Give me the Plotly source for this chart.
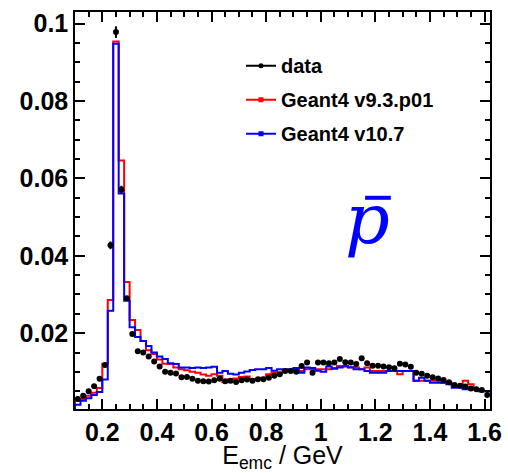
import plotly.graph_objects as go

# bin edges: 0.10 .. 1.62 in steps of 0.02 (76 bins)
bin_low = 0.10
bin_width = 0.02
n_bins = 76

data_vals = [0.0030, 0.0038, 0.0050, 0.0063, 0.0082, 0.0118, 0.0427, 0.0978, 0.0571, 0.0290,
             0.0198, 0.0153, 0.0150, 0.0140, 0.0127, 0.0114, 0.0100, 0.0098, 0.0096, 0.0086,
             0.0087, 0.0082, 0.0077, 0.0076, 0.0075, 0.0078, 0.0082, 0.0076, 0.0077, 0.0074,
             0.0078, 0.0080, 0.0077, 0.0081, 0.0081, 0.0085, 0.0090, 0.0094, 0.0102, 0.0102,
             0.0100, 0.0115, 0.0124, 0.0098, 0.0124, 0.0124, 0.0122, 0.0124, 0.0133, 0.0125,
             0.0124, 0.0120, 0.0135, 0.0122, 0.0116, 0.0116, 0.0114, 0.0112, 0.0109, 0.0121,
             0.0119, 0.0113, 0.0098, 0.0095, 0.0090, 0.0086, 0.0083, 0.0079, 0.0073, 0.0066,
             0.0064, 0.0062, 0.0057, 0.0055, 0.0053, 0.0040]
data_err = [0.0003] * 6 + [0.0010, 0.0015, 0.0010, 0.0005] + [0.0003] * 66

g4_v93 = [0.0025, 0.0030, 0.0038, 0.0046, 0.0058, 0.0121, 0.0286, 0.0954, 0.0646, 0.0332,
          0.0234, 0.0208, 0.0180, 0.0156, 0.0146, 0.0132, 0.0121, 0.0120, 0.0111, 0.0107,
          0.0104, 0.0100, 0.0098, 0.0093, 0.0090, 0.0094, 0.0090, 0.0073, 0.0081, 0.0083,
          0.0087, 0.0088, 0.0081, 0.0081, 0.0085, 0.0094, 0.0098, 0.0098, 0.0102, 0.0102,
          0.0102, 0.0102, 0.0107, 0.0107, 0.0107, 0.0107, 0.0107, 0.0110, 0.0115, 0.0115,
          0.0111, 0.0111, 0.0107, 0.0111, 0.0102, 0.0102, 0.0102, 0.0102, 0.0102, 0.0094,
          0.0102, 0.0102, 0.0077, 0.0077, 0.0077, 0.0077, 0.0077, 0.0072, 0.0072, 0.0064,
          0.0064, 0.0077, 0.0068, 0.0055, 0.0050, 0.0050]

g4_v107 = [0.0015, 0.0025, 0.0032, 0.0040, 0.0048, 0.0080, 0.0258, 0.0948, 0.0561, 0.0284,
           0.0215, 0.0190, 0.0180, 0.0167, 0.0150, 0.0140, 0.0133, 0.0122, 0.0120, 0.0111,
           0.0111, 0.0110, 0.0111, 0.0110, 0.0111, 0.0113, 0.0098, 0.0102, 0.0095, 0.0093,
           0.0098, 0.0101, 0.0105, 0.0107, 0.0107, 0.0110, 0.0103, 0.0107, 0.0107, 0.0107,
           0.0110, 0.0098, 0.0111, 0.0110, 0.0103, 0.0100, 0.0114, 0.0108, 0.0111, 0.0114,
           0.0112, 0.0107, 0.0107, 0.0102, 0.0098, 0.0098, 0.0098, 0.0102, 0.0102, 0.0102,
           0.0102, 0.0102, 0.0077, 0.0085, 0.0077, 0.0072, 0.0072, 0.0072, 0.0068, 0.0059,
           0.0059, 0.0055, 0.0055, 0.0055, 0.0050, 0.0050]

legend_names = ["data", "Geant4 v9.3.p01", "Geant4 v10.7"]
x_title = "E<sub>emc</sub> / GeV"
particle_label = "p"

edges = [round(bin_low + i * bin_width, 4) for i in range(n_bins + 1)]
centers = [round(bin_low + (i + 0.5) * bin_width, 4) for i in range(n_bins)]


def step_xy(vals):
    xs = [edges[0]] + edges[:-1] + [edges[-1]]
    ys = [0.0] + list(vals) + [vals[-1]]
    return xs, ys


RED = "#ff0000"
BLUE = "#0000ff"
fig = go.Figure()

for vals, col in [(g4_v93, RED), (g4_v107, BLUE)]:
    xs, ys = step_xy(vals)
    fig.add_trace(go.Scatter(x=xs, y=ys, mode="lines", line=dict(color=col, width=2, shape="hv"),
                             showlegend=False, hoverinfo="skip"))

fig.add_trace(go.Scatter(x=centers, y=data_vals, mode="markers",
                         marker=dict(color="black", size=6),
                         error_y=dict(type="data", array=data_err, color="black", thickness=2, width=0),
                         showlegend=False))

# legend entries
for name, col, sym, sz in [(legend_names[0], "black", "circle", 5),
                           (legend_names[1], RED, "square", 5),
                           (legend_names[2], BLUE, "square", 5)]:
    fig.add_trace(go.Scatter(x=[None], y=[None], mode="lines+markers", name=name,
                             legendgroup=name,
                             line=dict(color=col, width=2),
                             marker=dict(color=col, size=sz, symbol=sym)))

axis_common = dict(showline=True, linecolor="black", linewidth=1.5, mirror="ticks",
                   ticks="inside", ticklen=10, tickwidth=1.5, tickcolor="black",
                   showgrid=False, zeroline=False, automargin=False,
                   tickfont=dict(family="Liberation Sans", size=25, color="black", weight="bold"))

fig.update_xaxes(range=[0.1, 1.62], tickmode="linear", tick0=0, dtick=0.2,
                 minor=dict(ticks="inside", ticklen=5, tickwidth=1.5, tickcolor="black", dtick=0.05, tick0=0),
                 title=dict(text=x_title, font=dict(family="Liberation Sans", size=25, color="black"), standoff=8),
                 **axis_common)
fig.update_yaxes(range=[0.0004, 0.103], tickmode="linear", tick0=0, dtick=0.02,
                 minor=dict(ticks="inside", ticklen=5, tickwidth=1.5, tickcolor="black", dtick=0.005, tick0=0),
                 **axis_common)

fig.add_annotation(x=0.705, y=0.479, xref="paper", yref="paper", text=particle_label, showarrow=False,
                   font=dict(family="DejaVu Serif", size=70, color=BLUE, style="italic"),
                   xanchor="center", yanchor="middle")
fig.add_shape(type="line", xref="paper", yref="paper", x0=0.699, x1=0.761, y0=0.532, y1=0.532,
              line=dict(color=BLUE, width=4))

fig.update_layout(
    width=508, height=473,
    margin=dict(l=75, r=18, t=12, b=64),
    paper_bgcolor="white", plot_bgcolor="white",
    legend=dict(x=0.40, y=0.914, xanchor="left", yanchor="top",
                font=dict(family="Liberation Sans", size=20, color="black", weight="bold"),
                bgcolor="rgba(0,0,0,0)", tracegroupgap=5, itemwidth=30),
)

fig.write_html("out.html")
